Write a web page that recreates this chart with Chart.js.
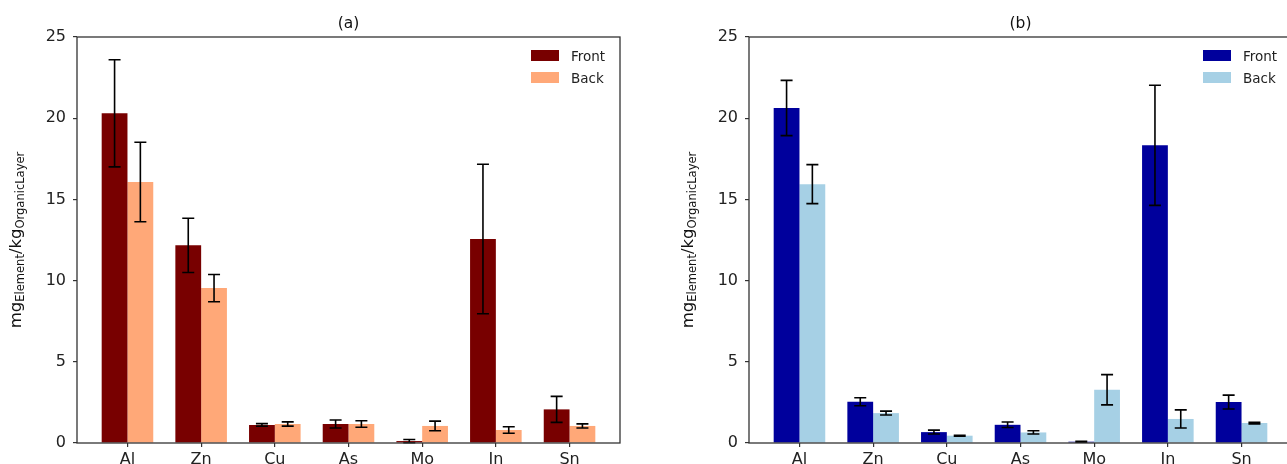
<!DOCTYPE html>
<html>
<head>
<meta charset="utf-8">
<script src="https://cdn.jsdelivr.net/npm/chart.js@4.4.0/dist/chart.umd.min.js"></script>
<style>
html, body { margin: 0; padding: 0; background: #fff; overflow: hidden; }
#wrap { position: relative; width: 1287px; height: 464px; overflow: hidden; }
#ca { position: absolute; left: 0; top: 0; }
#cb { position: absolute; left: 660px; top: 0; }
</style>
</head>
<body>
<div id="wrap">
  <canvas id="ca" width="650" height="464"></canvas>
  <canvas id="cb" width="662" height="464"></canvas>
</div>
<script>
// element categories
var elements = ["Al", "Zn", "Cu", "As", "Mo", "In", "Sn"];

// panel (a)
var frontA    = [20.3, 12.17, 1.11, 1.17, 0.12, 12.56, 2.07];
var frontAErr = [3.3, 1.67, 0.08, 0.25, 0.1, 4.6, 0.8];
var backA     = [16.07, 9.54, 1.17, 1.17, 1.05, 0.8, 1.05];
var backAErr  = [2.45, 0.84, 0.13, 0.2, 0.3, 0.2, 0.13];

// panel (b)
var frontB    = [20.63, 2.54, 0.67, 1.12, 0.08, 18.33, 2.52];
var frontBErr = [1.7, 0.25, 0.12, 0.17, 0.03, 3.7, 0.43];
var backB     = [15.94, 1.84, 0.45, 0.65, 3.28, 1.48, 1.23];
var backBErr  = [1.2, 0.12, 0.03, 0.1, 0.93, 0.56, 0.05];

var yTicks = { min: 0, max: 25, step: 5 };

Chart.defaults.font.family = "'DejaVu Sans', sans-serif";

// error bars, frame, title, legend and y label
var decor = {
  id: 'decor',
  afterDatasetsDraw: function (chart, args, opts) {
    var ctx = chart.ctx, area = chart.chartArea, ys = chart.scales.y;
    ctx.save();

    chart.data.datasets.forEach(function (ds, di) {
      var meta = chart.getDatasetMeta(di);
      meta.data.forEach(function (bar, i) {
        var v = ds.data[i].y, e = ds.errors[i];
        var top = ys.getPixelForValue(v + e), bot = ys.getPixelForValue(Math.max(v - e, 0));
        ctx.strokeStyle = '#000';
        ctx.lineWidth = 1.6;
        ctx.beginPath();
        ctx.moveTo(bar.x, top); ctx.lineTo(bar.x, bot);
        ctx.moveTo(bar.x - 6, top); ctx.lineTo(bar.x + 6, top);
        ctx.moveTo(bar.x - 6, bot); ctx.lineTo(bar.x + 6, bot);
        ctx.stroke();
      });
    });

    // axes frame
    ctx.strokeStyle = '#333';
    ctx.lineWidth = 1.3;
    ctx.strokeRect(area.left, area.top, area.right - area.left, area.bottom - area.top);

    // title
    ctx.fillStyle = '#111';
    ctx.font = "15.5px 'DejaVu Sans'";
    ctx.textAlign = 'center';
    ctx.textBaseline = 'alphabetic';
    ctx.fillText(opts.title, (area.left + area.right) / 2, area.top - 9);

    // legend
    ctx.textAlign = 'left';
    ctx.font = "13.5px 'DejaVu Sans'";
    chart.data.datasets.forEach(function (ds, di) {
      var y0 = area.top + 13 + di * 22;
      ctx.fillStyle = ds.backgroundColor;
      ctx.fillRect(area.right - 89, y0, 28, 11);
      ctx.fillStyle = '#222';
      ctx.fillText(ds.label, area.right - 49, y0 + 11);
    });

    // y axis label with subscripts
    var parts = [["mg", 16.5, 0], ["Element", 11.5, 2.5], ["/kg", 16.5, 0], ["OrganicLayer", 11.5, 2.5]];
    var total = 0;
    parts.forEach(function (p) {
      ctx.font = p[1] + "px 'DejaVu Sans'";
      p.push(ctx.measureText(p[0]).width);
      total += p[3];
    });
    ctx.translate(area.left - 56, (area.top + area.bottom) / 2);
    ctx.rotate(-Math.PI / 2);
    ctx.fillStyle = '#111';
    var x = -total / 2;
    parts.forEach(function (p) {
      ctx.font = p[1] + "px 'DejaVu Sans'";
      ctx.fillText(p[0], x, p[2]);
      x += p[3];
    });

    ctx.restore();
  }
};

function makeChart(id, title, front, frontErr, back, backErr, colFront, colBack, yWidth) {
  var ctx = document.getElementById(id).getContext('2d');
  return new Chart(ctx, {
    type: 'bar',
    data: {
      datasets: [{
        label: 'Front',
        data: elements.map(function (e, i) { return { x: i, y: front[i] }; }),
        errors: frontErr,
        backgroundColor: colFront,
        borderWidth: 0
      }, {
        label: 'Back',
        data: elements.map(function (e, i) { return { x: i, y: back[i] }; }),
        errors: backErr,
        backgroundColor: colBack,
        borderWidth: 0
      }]
    },
    options: {
      responsive: false,
      animation: false,
      events: [],
      categoryPercentage: 0.7,
      barPercentage: 1.0,
      layout: { padding: { top: 37, right: 30, left: 0, bottom: 0 } },
      plugins: {
        legend: { display: false },
        tooltip: { enabled: false },
        decor: { title: title }
      },
      scales: {
        x: {
          type: 'linear',
          min: -0.685,
          max: 6.685,
          offset: false,
          grid: { offset: false, drawOnChartArea: false, tickLength: 4, color: '#333', lineWidth: 1.2 },
          border: { display: false },
          ticks: {
            stepSize: 1, includeBounds: false, autoSkip: false, maxRotation: 0, padding: 3,
            color: '#222', font: { size: 16 },
            callback: function (v) { return elements[v] || ''; }
          },
          afterFit: function (s) { s.height = 21; }
        },
        y: {
          min: yTicks.min,
          max: yTicks.max,
          grid: { drawOnChartArea: false, tickLength: 4, color: '#333', lineWidth: 1.2 },
          border: { display: false },
          ticks: { stepSize: yTicks.step, padding: 7, color: '#222', font: { size: 16 } },
          afterFit: function (s) { s.width = yWidth; }
        }
      }
    },
    plugins: [decor]
  });
}

makeChart('ca', '(a)', frontA, frontAErr, backA, backAErr, '#780000', '#ffa878', 77);
makeChart('cb', '(b)', frontB, frontBErr, backB, backBErr, '#00009c', '#a6d0e5', 89);
</script>
</body>
</html>
